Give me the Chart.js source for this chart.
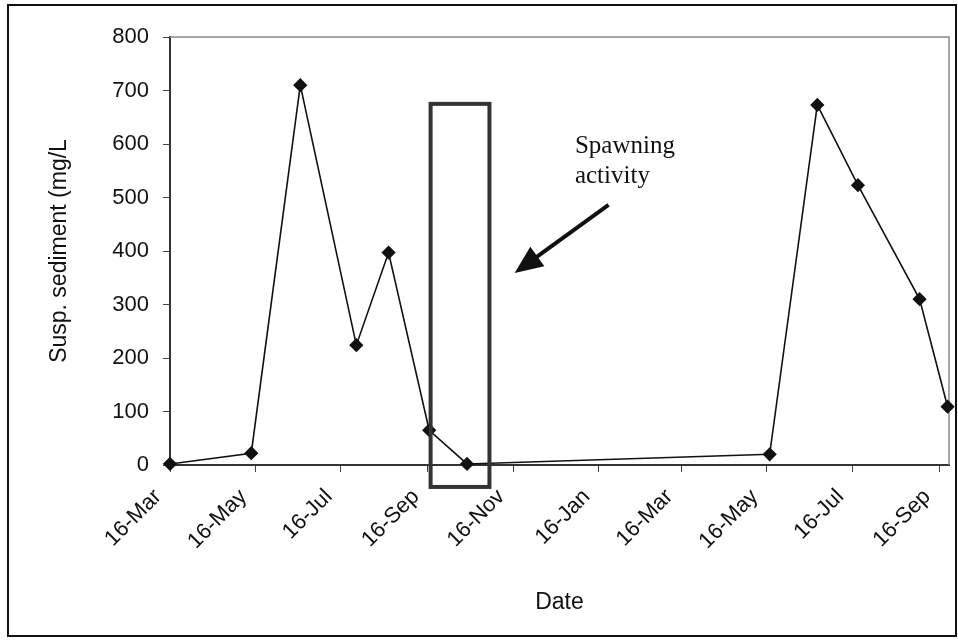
<!DOCTYPE html>
<html>
<head>
<meta charset="utf-8">
<script src="https://cdn.jsdelivr.net/npm/chart.js@4.4.1/dist/chart.umd.min.js"></script>
<style>
  html, body { margin: 0; padding: 0; background: #fff; }
  #wrap { width: 958px; height: 642px; }
</style>
</head>
<body>
<div id="wrap"><canvas id="myChart" width="958" height="642"></canvas></div>
<script>
// sampling dates and suspended sediment (mg/L)
const sampleDates = ["2001-03-16", "2001-05-13", "2001-06-17", "2001-07-27", "2001-08-19",
  "2001-09-17", "2001-10-14", "2002-05-18", "2002-06-21", "2002-07-20", "2002-09-02", "2002-09-22"];
const sediment = [2, 22, 710, 224, 397, 65, 2, 20, 673, 523, 310, 109];

const tickDates = ["2001-03-16", "2001-05-16", "2001-07-16", "2001-09-16", "2001-11-16",
  "2002-01-16", "2002-03-16", "2002-05-16", "2002-07-16", "2002-09-16"];
const tickLabels = ["16-Mar", "16-May", "16-Jul", "16-Sep", "16-Nov",
  "16-Jan", "16-Mar", "16-May", "16-Jul", "16-Sep"];
const yTicks = [0, 100, 200, 300, 400, 500, 600, 700, 800];

const startDate = "2001-03-16";
const endDate = "2002-09-23";

function dayOf(s) {
  return (Date.parse(s) - Date.parse(startDate)) / 86400000;
}

const points = sampleDates.map((d, i) => ({ x: dayOf(d), y: sediment[i] }));
const tickDays = tickDates.map(dayOf);

// spawning box, arrow and note, in data units
const spawnBox = { x0: "2001-09-18", x1: "2001-10-30", yTop: 675, yBottom: -41 };
const arrow = { fromDay: 313, fromY: 486, toDay: 246, toY: 359 };
const note = { day: 289, lines: ["Spawning", "activity"], ys: [583, 527] };

const extras = {
  id: "extras",
  beforeDraw(chart) {
    const ctx = chart.ctx;
    ctx.save();
    ctx.fillStyle = "#fff";
    ctx.fillRect(0, 0, chart.width, chart.height);
    ctx.restore();
  },
  beforeDatasetsDraw(chart) {
    const { ctx, chartArea: a } = chart;
    ctx.save();
    ctx.strokeStyle = "#888";
    ctx.lineWidth = 1.5;
    ctx.beginPath();
    ctx.moveTo(a.left, a.top);
    ctx.lineTo(a.right, a.top);
    ctx.lineTo(a.right, a.bottom);
    ctx.stroke();
    ctx.restore();
  },
  afterDraw(chart) {
    const { ctx } = chart;
    const xs = chart.scales.x, ys = chart.scales.y;
    ctx.save();
    // spawning box
    const bx0 = xs.getPixelForValue(dayOf(spawnBox.x0));
    const bx1 = xs.getPixelForValue(dayOf(spawnBox.x1));
    const by0 = ys.getPixelForValue(spawnBox.yTop);
    const by1 = ys.getPixelForValue(spawnBox.yBottom);
    ctx.strokeStyle = "#333";
    ctx.lineWidth = 4;
    ctx.strokeRect(bx0, by0, bx1 - bx0, by1 - by0);

    // arrow
    const tx = xs.getPixelForValue(arrow.toDay), ty = ys.getPixelForValue(arrow.toY);
    const fx = xs.getPixelForValue(arrow.fromDay), fy = ys.getPixelForValue(arrow.fromY);
    const ang = Math.atan2(ty - fy, tx - fx);
    const c = Math.cos(ang), s = Math.sin(ang);
    ctx.strokeStyle = "#111";
    ctx.fillStyle = "#111";
    ctx.lineWidth = 4;
    ctx.beginPath();
    ctx.moveTo(fx, fy);
    ctx.lineTo(tx - 20 * c, ty - 20 * s);
    ctx.stroke();
    ctx.beginPath();
    ctx.moveTo(tx, ty);
    ctx.lineTo(tx - 28 * c + 12 * s, ty - 28 * s - 12 * c);
    ctx.lineTo(tx - 28 * c - 12 * s, ty - 28 * s + 12 * c);
    ctx.closePath();
    ctx.fill();

    // note text
    ctx.font = "25px 'Liberation Serif', 'DejaVu Serif', serif";
    ctx.fillStyle = "#111";
    ctx.textBaseline = "alphabetic";
    ctx.textAlign = "left";
    const lx = xs.getPixelForValue(note.day);
    note.lines.forEach((t, i) => ctx.fillText(t, lx, ys.getPixelForValue(note.ys[i])));

    // outer frame
    ctx.strokeStyle = "#111";
    ctx.lineWidth = 2;
    ctx.strokeRect(8, 5, 948, 631);
    ctx.restore();
  }
};

new Chart(document.getElementById("myChart"), {
  type: "line",
  data: {
    datasets: [{
      label: "Susp. sediment",
      data: points,
      borderColor: "#111",
      borderWidth: 1.6,
      pointStyle: "rectRot",
      pointRadius: 6,
      pointBackgroundColor: "#111",
      pointBorderColor: "#111",
      tension: 0,
      clip: false
    }]
  },
  options: {
    responsive: false,
    animation: false,
    layout: { padding: { left: 42, top: 37, right: 9, bottom: 22 } },
    plugins: { legend: { display: false }, tooltip: { enabled: false } },
    scales: {
      x: {
        type: "linear",
        min: 0,
        max: dayOf(endDate),
        afterBuildTicks: (s) => { s.ticks = tickDays.map(v => ({ value: v })); },
        afterFit: (s) => { s.height = 155; s.paddingLeft = 0; s.paddingRight = 0; },
        ticks: {
          autoSkip: false,
          minRotation: 45,
          maxRotation: 45,
          color: "#111",
          font: { family: "'Liberation Sans', Arial", size: 22 },
          padding: 12,
          labelOffset: -12,
          callback: (v) => { const i = tickDays.indexOf(v); return i >= 0 ? tickLabels[i] : ""; }
        },
        grid: { drawOnChartArea: false, color: "#444", tickLength: 7, tickColor: "#444" },
        border: { color: "#333", width: 2 },
        title: { display: true, text: "Date", color: "#111", font: { family: "'Liberation Sans', Arial", size: 23 }, padding: { top: 14 } }
      },
      y: {
        min: 0,
        max: 800,
        afterBuildTicks: (s) => { s.ticks = yTicks.map(v => ({ value: v })); },
        afterFit: (s) => { s.width = 128; s.paddingTop = 0; s.paddingBottom = 0; },
        ticks: {
          color: "#111",
          font: { family: "'Liberation Sans', Arial", size: 22 },
          padding: 14
        },
        grid: { drawOnChartArea: false, color: "#444", tickLength: 7, tickColor: "#444" },
        border: { color: "#333", width: 2 },
        title: { display: true, text: "Susp. sediment (mg/L", color: "#111", font: { family: "'Liberation Sans', Arial", size: 23 }, padding: { top: 4 } }
      }
    }
  },
  plugins: [extras]
});
</script>
</body>
</html>
